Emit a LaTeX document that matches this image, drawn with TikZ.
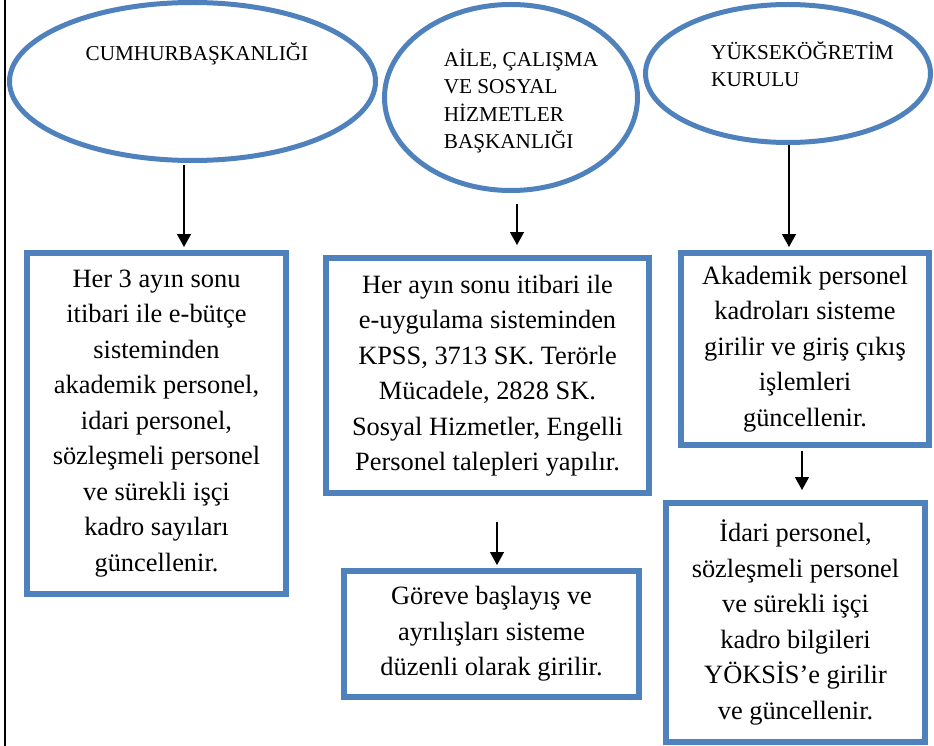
\documentclass[tikz,border=0pt]{standalone}
\usepackage{fontspec}
\setmainfont{Liberation Serif}
\usetikzlibrary{shapes.geometric,arrows.meta,calc}
\definecolor{kmavi}{HTML}{4F81BD}

\begin{document}
\begin{tikzpicture}[x=1pt,y=-1pt]
    \useasboundingbox (0,0) rectangle (934,746);
    \tikzset{Kurum/.style = {ellipse, draw = kmavi, line width = 5pt, inner sep = 0pt}}
    \tikzset{KurumYazi/.style = {align = left, inner sep = 0pt, font = \fontsize{21.2}{27.5}\selectfont}}
    \tikzset{Kutu/.style = {rectangle, draw = kmavi, line width = 6pt, inner sep = 0pt, align = center,
        font = \fontsize{26.4}{35.5}\selectfont}}
    \tikzset{Ok/.style = {-{Triangle[width=14pt,length=13pt]}, line width = 1.3pt, black}}

    \draw[line width = 2pt] (5,0) -- (5,746);

    \node[Kurum, minimum width = 366pt, minimum height = 158pt] (cumhur) at (192.5,81.5) {};
    \node[KurumYazi] (cumhurYazi) at (197,54) {CUMHURBAŞKANLIĞI};

    \node[Kurum, minimum width = 253pt, minimum height = 186pt] (aile) at (511,97.5) {};
    \node[KurumYazi] (aileYazi) at (521,101) {AİLE, ÇALIŞMA\\VE SOSYAL\\HİZMETLER\\BAŞKANLIĞI};

    \node[Kurum, minimum width = 285pt, minimum height = 138pt] (yok) at (788,73.5) {};
    \node[KurumYazi] (yokYazi) at (802.5,64) {YÜKSEKÖĞRETİM\\KURULU};

    \node[Kutu, minimum width = 259pt, minimum height = 341pt] (ebutce) at (156.5,423.5)
        {Her 3 ayın sonu\\itibari ile e-bütçe\\sisteminden\\akademik personel,\\idari personel,\\sözleşmeli personel\\ve sürekli işçi\\kadro sayıları\\güncellenir.};
    \node[Kutu, minimum width = 323pt, minimum height = 235pt] (euyg) at (487.5,375.5)
        {Her ayın sonu itibari ile\\e-uygulama sisteminden\\KPSS, 3713 SK. Terörle\\Mücadele, 2828 SK.\\Sosyal Hizmetler, Engelli\\Personel talepleri yapılır.};
    \node[Kutu, minimum width = 295pt, minimum height = 126pt] (gorev) at (491.5,634)
        {Göreve başlayış ve\\ayrılışları sisteme\\düzenli olarak girilir.};
    \node[Kutu, minimum width = 248pt, minimum height = 192pt] (akad) at (805,349)
        {Akademik personel\\kadroları sisteme\\girilir ve giriş çıkış\\işlemleri\\güncellenir.};
    \node[Kutu, minimum width = 259pt, minimum height = 239pt] (idari) at (795.5,622.5)
        {İdari personel,\\sözleşmeli personel\\ve sürekli işçi\\kadro bilgileri\\YÖKSİS’e girilir\\ve güncellenir.};

    \draw[Ok] ($(cumhur.south)+(-8.5,2.5)$) -- ($(cumhur.south |- ebutce.north)+(-8.5,-3)$);
    \draw[Ok] ($(aile.south)+(6,11.5)$) -- ($(aile.south |- euyg.north)+(6,-10)$);
    \draw[Ok] ($(yok.south)+(1,0.5)$) -- ($(yok.south |- akad.north)+(1,-3)$);
    \draw[Ok] ($(euyg.south)+(9.5,26)$) -- ($(euyg.south |- gorev.north)+(9.5,-3)$);
    \draw[Ok] ($(akad.south)+(-3,3)$) -- ($(akad.south |- idari.north)+(-3,-10)$);

\end{tikzpicture}
\end{document}
